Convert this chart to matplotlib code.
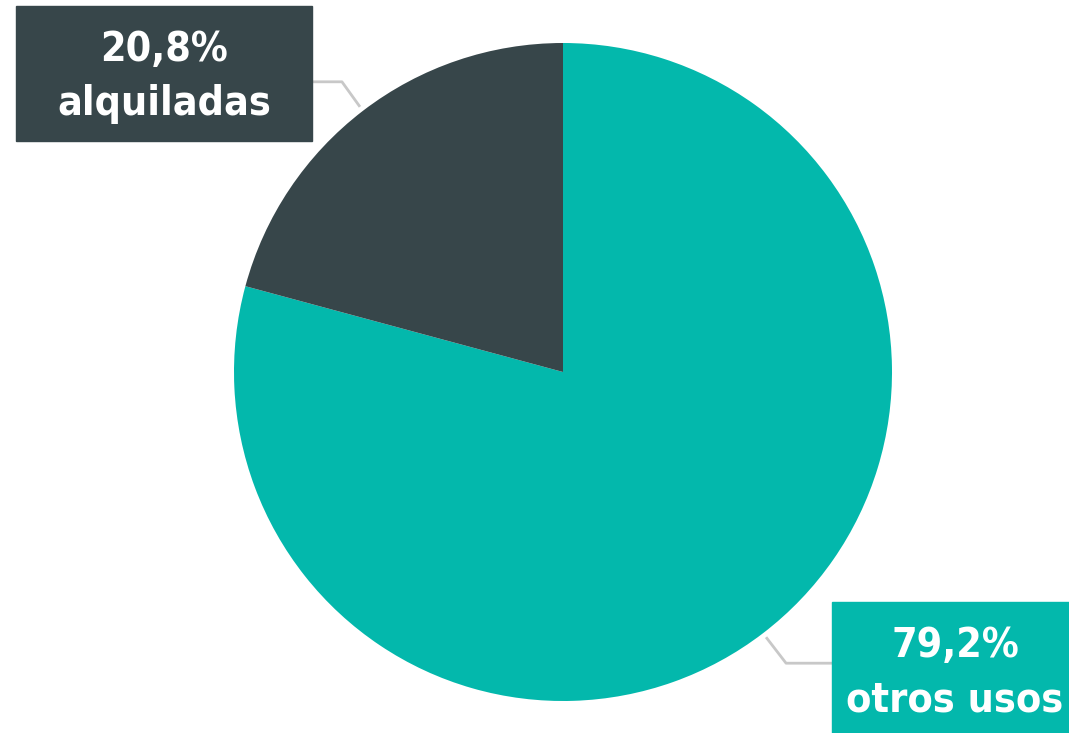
import numpy as np
import matplotlib
matplotlib.use("Agg")
import matplotlib.pyplot as plt
from matplotlib import font_manager
from matplotlib.patches import Rectangle

# share of dwellings by use
labels = ["otros usos", "alquiladas"]
shares = [79.2, 20.8]
colors = ["#03B8AC", "#37464A"]

# look for a narrow / condensed bold face, otherwise use the default at a smaller size
narrow = [f for f in font_manager.fontManager.ttflist
          if ("Narrow" in f.name or "Condensed" in f.name
              or str(f.stretch) in ("condensed", "semi-condensed", "extra-condensed"))]
if narrow:
    font, stretch, fsize = narrow[0].name, narrow[0].stretch, 29.5
else:
    font, stretch, fsize = "DejaVu Sans", "normal", 26

W, H = 1069, 733
fig = plt.figure(figsize=(W / 100, H / 100), dpi=100)
ax = fig.add_axes([0, 0, 1, 1])

cx, cy, R = 563, H - 372, 329
wedges, _ = ax.pie(shares, colors=colors, startangle=90, counterclock=False,
                   center=(cx, cy), radius=R, frame=True)
ax.set_xlim(0, W)
ax.set_ylim(0, H)
ax.set_aspect("equal")
ax.axis("off")

# label boxes (left, top, width, height in pixels)
boxes = {"otros usos": (832, 602, 256, 135), "alquiladas": (16, 6, 296, 135)}
for w, lab, val, col in zip(wedges, labels, shares, colors):
    mid = np.deg2rad((w.theta1 + w.theta2) / 2)
    x0 = cx + (R + 5) * np.cos(mid)
    y0 = cy + (R + 5) * np.sin(mid)
    bx, by, bw, bh = boxes[lab]
    if np.cos(mid) < 0:
        ey, ex = y0 + 25, x0 - 18
        ax.plot([x0, ex, bx + bw], [y0, ey, ey], color="#c8c8c8", lw=2,
                solid_capstyle="butt", zorder=1)
    else:
        ey, ex = y0 - 26, x0 + 20
        ax.plot([x0, ex, bx], [y0, ey, ey], color="#c8c8c8", lw=2,
                solid_capstyle="butt", zorder=1)
    ax.add_patch(Rectangle((bx, H - by - bh), bw, bh, color=col, zorder=3,
                           clip_on=False))
    tx = bx + bw / 2 if lab == "alquiladas" else 955
    for txt, dy in [(f"{val:.1f}%".replace(".", ","), 44), (lab, 98)]:
        ax.text(tx, H - (by + dy), txt, color="white", fontsize=fsize,
                fontweight="bold", family=font, fontstretch=stretch,
                ha="center", va="center", zorder=4)

fig.savefig("out.png", dpi=100, facecolor="white")
